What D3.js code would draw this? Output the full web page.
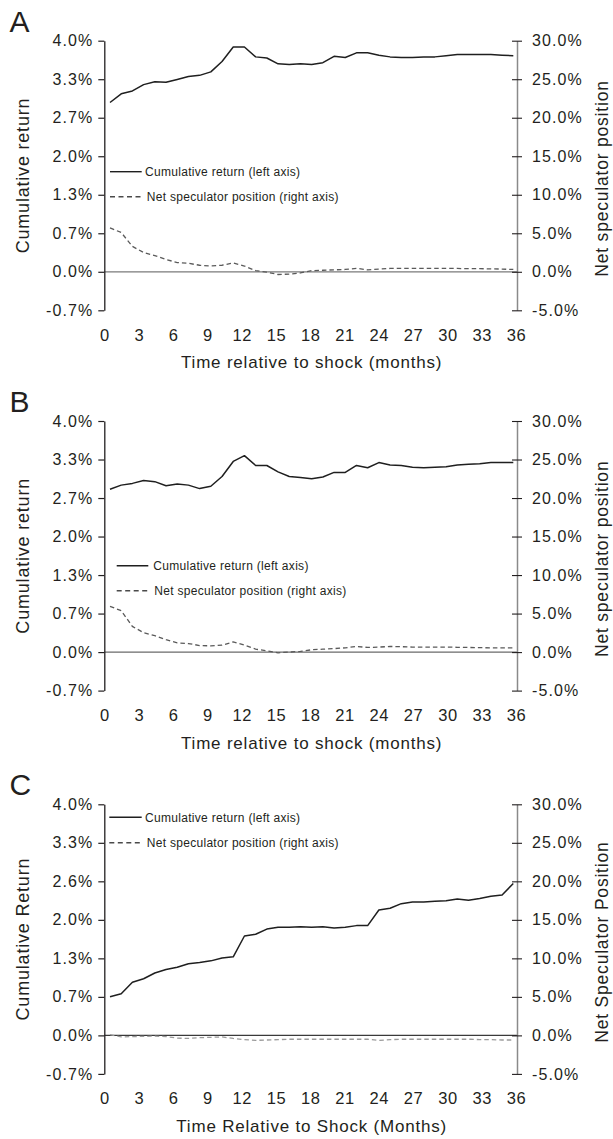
<!DOCTYPE html>
<html>
<head>
<meta charset="utf-8">
<script src="https://cdn.jsdelivr.net/npm/d3@7"></script>
<style>
  html, body { margin: 0; padding: 0; background: #fff; }
  svg { display: block; }
  text { font-family: "Liberation Sans", Arial, Helvetica, sans-serif; fill: #231f20; }
</style>
</head>
<body>
<script>
// ---------------- DATA ----------------
const months = [0,1,2,3,4,5,6,7,8,9,10,11,12,13,14,15,16,17,18,19,20,21,22,23,24,25,26,27,28,29,30,31,32,33,34,35,36];
const xTickValues = [0,3,6,9,12,15,18,21,24,27,30,33,36];

const leftTickValues = [-0.6667, 0, 0.6667, 1.3333, 2, 2.6667, 3.3333, 4];
const leftTickLabelsAB = ["-0.7%","0.0%","0.7%","1.3%","2.0%","2.7%","3.3%","4.0%"];
const leftTickLabelsC  = ["-0.7%","0.0%","0.7%","1.3%","2.0%","2.6%","3.3%","4.0%"];
const rightTickValues = [-5, 0, 5, 10, 15, 20, 25, 30];
const rightTickLabels = ["-5.0%","0.0%","5.0%","10.0%","15.0%","20.0%","25.0%","30.0%"];

// Panel A
const cumReturnA = [2.93,3.08,3.13,3.24,3.29,3.28,3.33,3.38,3.40,3.46,3.64,3.89,3.89,3.72,3.70,3.60,3.59,3.60,3.59,
                    3.62,3.73,3.71,3.79,3.79,3.75,3.72,3.71,3.71,3.72,3.72,3.74,3.76,3.76,3.76,3.76,3.75,3.74];
const netPosA = [5.7,5.1,3.3,2.5,2.1,1.6,1.2,1.1,0.85,0.75,0.85,1.15,0.75,0.15,-0.05,-0.35,-0.3,-0.15,0.15,
                 0.2,0.25,0.3,0.45,0.25,0.35,0.43,0.43,0.45,0.45,0.45,0.43,0.43,0.4,0.4,0.38,0.35,0.3];
// Panel B
const cumReturnB = [2.82,2.89,2.92,2.97,2.95,2.88,2.91,2.89,2.83,2.87,3.04,3.30,3.40,3.23,3.23,3.12,3.04,3.02,3.00,
                    3.03,3.11,3.11,3.23,3.19,3.28,3.24,3.23,3.20,3.19,3.20,3.21,3.24,3.25,3.26,3.28,3.28,3.28];
const netPosB = [5.94,5.38,3.33,2.52,2.14,1.62,1.2,1.11,0.85,0.81,0.9,1.32,0.9,0.38,0.17,-0.09,0,0.09,
                 0.3,0.38,0.45,0.55,0.73,0.6,0.65,0.73,0.7,0.65,0.65,0.65,0.65,0.62,0.6,0.58,0.55,0.55,0.55];
// Panel C
const cumReturnC = [0.67,0.72,0.92,0.98,1.08,1.14,1.18,1.24,1.26,1.29,1.34,1.36,1.72,1.75,1.84,1.87,1.87,1.88,1.87,
                    1.88,1.86,1.87,1.90,1.90,2.17,2.20,2.28,2.31,2.31,2.32,2.33,2.36,2.34,2.37,2.41,2.43,2.63];
const netPosC = [0.1,-0.2,-0.15,-0.13,-0.1,-0.15,-0.35,-0.4,-0.3,-0.25,-0.2,-0.4,-0.55,-0.65,-0.6,-0.55,-0.5,-0.5,-0.5,
                 -0.5,-0.5,-0.5,-0.5,-0.5,-0.65,-0.55,-0.5,-0.5,-0.5,-0.5,-0.5,-0.5,-0.5,-0.55,-0.55,-0.6,-0.6];

const panelLetters = ["A","B","C"];
const xTitles = ["Time relative to shock (months)","Time relative to shock (months)","Time Relative to Shock (Months)"];
const yLeftTitles = ["Cumulative return","Cumulative return","Cumulative Return"];
const yRightTitles = ["Net speculator position","Net speculator position","Net Speculator Position"];
const legendLabels = ["Cumulative return (left axis)","Net speculator position (right axis)"];

// ---------------- LAYOUT ----------------
const W = 613, Hpage = 1139;
const axL = 104.3, axR = 517, H = 269.6;
const panels = [
  { top: 40.7,  cum: cumReturnA, net: netPosA, leftLabels: leftTickLabelsAB, zeroColor: "#7a7a7a", netColor: "#5a5a5a",
    leg: { y1: 131, y2: 156, x0: 110, x1: 141.7, tx1: 145, tx2: 146.7 } },
  { top: 421,   cum: cumReturnB, net: netPosB, leftLabels: leftTickLabelsAB, zeroColor: "#6a6a6a", netColor: "#5a5a5a",
    leg: { y1: 144.7, y2: 169.7, x0: 116.7, x1: 148.3, tx1: 153.3, tx2: 154.3 } },
  { top: 804.3, cum: cumReturnC, net: netPosC, leftLabels: leftTickLabelsC, zeroColor: "#3a3a3a", netColor: "#9a9a9a",
    leg: { y1: 13, y2: 38.4, x0: 109.3, x1: 141.7, tx1: 145, tx2: 146.7 } }
];

const svg = d3.select("body").append("svg").attr("width", W).attr("height", Hpage);

const xTick = d3.scaleLinear().domain([0, 36]).range([105, 516.5]);
const xData = d3.scaleLinear().domain([0, 36]).range([110, 513.3]);

panels.forEach((p, pi) => {
  const g = svg.append("g").attr("transform", `translate(0,${p.top})`);
  const yL = d3.scaleLinear().domain([-2/3, 4]).range([H, 0]);
  const yR = d3.scaleLinear().domain([-5, 30]).range([H, 0]);

  // zero line
  g.append("line")
    .attr("x1", axL).attr("x2", axR)
    .attr("y1", yL(0)).attr("y2", yL(0))
    .attr("stroke", p.zeroColor).attr("stroke-width", 1.2);

  // left axis
  const la = g.append("g").attr("transform", `translate(${axL},0)`)
    .call(d3.axisLeft(yL).tickValues(leftTickValues).tickFormat((d, i) => p.leftLabels[i])
      .tickSize(6).tickSizeOuter(0).tickPadding(5));
  la.select(".domain").attr("stroke", "#231f20").attr("stroke-width", 1.3);
  la.selectAll(".tick line").attr("stroke", "#231f20").attr("stroke-width", 1.2);
  la.selectAll(".tick text").attr("font-size", 16).attr("letter-spacing", "1.1px")
    .style("font-family", '"Liberation Sans", Arial, sans-serif').attr("fill", "#231f20");

  // right axis
  const ra = g.append("g").attr("transform", `translate(${axR},0)`)
    .call(d3.axisRight(yR).tickValues(rightTickValues).tickFormat((d, i) => rightTickLabels[i])
      .tickSize(5).tickSizeOuter(0).tickPadding(10));
  ra.select(".domain").attr("stroke", "#8a8a8a").attr("stroke-width", 1.5);
  ra.selectAll(".tick line").attr("x1", -5).attr("stroke", "#231f20").attr("stroke-width", 1.1);
  ra.selectAll(".tick text").attr("font-size", 16).attr("letter-spacing", "1.1px")
    .style("font-family", '"Liberation Sans", Arial, sans-serif').attr("fill", "#231f20");

  // x tick labels (no axis line)
  g.selectAll(".xlab").data(xTickValues).enter().append("text")
    .attr("class", "xlab")
    .attr("x", d => xTick(d)).attr("y", H + 30.4)
    .attr("text-anchor", "middle").attr("font-size", 16.5).attr("letter-spacing", "0.6px")
    .text(d => d);

  // lines
  const lineL = d3.line().x((d, i) => xData(months[i])).y(d => yL(d));
  const lineR = d3.line().x((d, i) => xData(months[i])).y(d => yR(d));
  g.append("path").datum(p.net).attr("d", lineR)
    .attr("fill", "none").attr("stroke", p.netColor).attr("stroke-width", 1.3)
    .attr("stroke-dasharray", "4.5,3");
  g.append("path").datum(p.cum).attr("d", lineL)
    .attr("fill", "none").attr("stroke", "#1f1f1f").attr("stroke-width", 1.5)
    .attr("stroke-linejoin", "round");

  // legend
  const L = p.leg;
  g.append("line").attr("x1", L.x0).attr("x2", L.x1).attr("y1", L.y1).attr("y2", L.y1)
    .attr("stroke", "#1f1f1f").attr("stroke-width", 1.4);
  g.append("text").attr("x", L.tx1).attr("y", L.y1 + 4.3).attr("font-size", 12).attr("letter-spacing", "0.3px")
    .text(legendLabels[0]);
  g.append("line").attr("x1", L.x0).attr("x2", L.x1).attr("y1", L.y2).attr("y2", L.y2)
    .attr("stroke", "#4a4a4a").attr("stroke-width", 1.4).attr("stroke-dasharray", "5,3.5");
  g.append("text").attr("x", L.tx2).attr("y", L.y2 + 4.3).attr("font-size", 12).attr("letter-spacing", "0.3px")
    .text(legendLabels[1]);

  // titles
  g.append("text").attr("x", 311.7).attr("y", H + 57.9).attr("text-anchor", "middle")
    .attr("font-size", 17).attr("letter-spacing", "0.8px").text(xTitles[pi]);
  g.append("text").attr("transform", `translate(28.5,${H / 2}) rotate(-90)`)
    .attr("text-anchor", "middle").attr("font-size", 18).attr("letter-spacing", "0.8px").text(yLeftTitles[pi]);
  g.append("text").attr("transform", `translate(608,${H / 2 + 3}) rotate(-90)`)
    .attr("text-anchor", "middle").attr("font-size", 17.5).attr("letter-spacing", "0.8px").text(yRightTitles[pi]);

  // panel letter
  g.append("text").attr("x", 9.5).attr("y", -9).attr("font-size", 30).text(panelLetters[pi]);
});
</script>
</body>
</html>
